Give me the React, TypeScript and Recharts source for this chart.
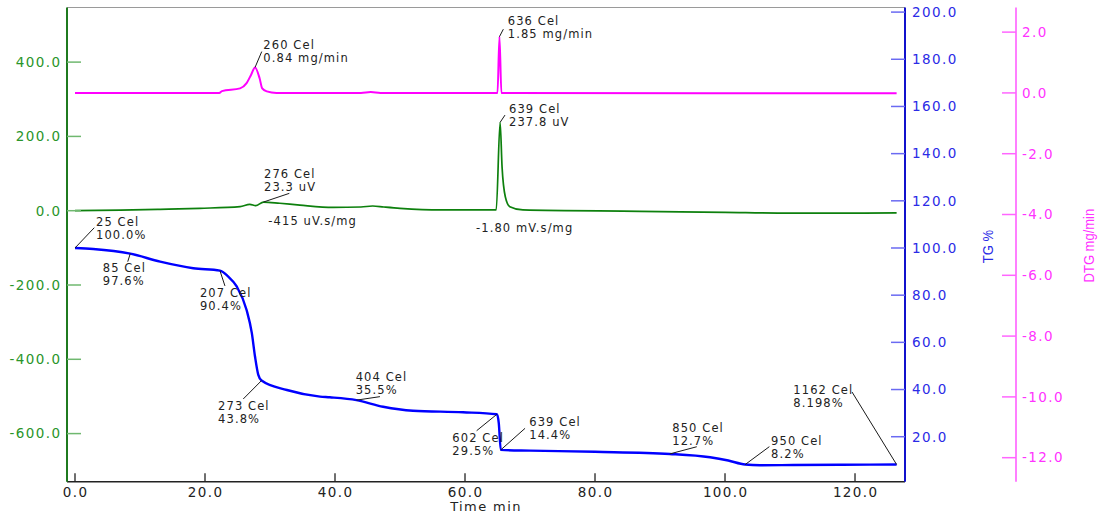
import React from "react";
import { ComposedChart, Line, XAxis, YAxis, ReferenceDot, ReferenceLine } from "recharts";

// TG mass curve between the marked points: [time min, mass %]
const tgTrace: [number, number][] = [
  [2.8, 99.6], [13.1, 94.2], [18.2, 91.4], [23.5, 88.1], [24.9, 83.6], [26.4, 73.7],
  [27.2, 64.0], [27.7, 53.9], [28.2, 46.2], [32.6, 39.8], [37.7, 37.0], [39.2, 36.7],
  [47.4, 32.7], [52.0, 31.0], [59.7, 30.35], [65.2, 25.7], [70.0, 14.1], [80.0, 13.6],
  [97.7, 11.3], [100.5, 9.9], [105.4, 7.9], [110.5, 8.0], [118.0, 8.1],
];

// DTA signal: [time min, uV]
const dtaTrace: [number, number][] = [
  [0, 0], [7.0, 1.5], [13.1, 3.8], [19.2, 6.5], [25.4, 10.8], [26.9, 17.0], [27.8, 13.5],
  [31.5, 20.0], [34.6, 15.0], [39.7, 9.0], [44.0, 10.0], [45.8, 12.6], [47.5, 10.0],
  [50.0, 6.5], [56.2, 2.0], [64.8, 2.0], [65.7, 118], [66.2, 37.7], [66.9, 10.8],
  [68.9, 2.0], [86.9, -1.6], [100.0, -4.5], [110.0, -6.5], [118.0, -6.5], [126.4, -6.0],
];

// DTG rate: [time min, mg/min]
const dtgTrace: [number, number][] = [
  [0, 0], [22.2, 0.0], [22.6, 0.06], [25.4, 0.15], [26.4, 0.32], [27.1, 0.6],
  [28.4, 0.48], [28.8, 0.15], [29.5, 0.05], [31.0, 0.0], [44.0, 0.0], [45.5, 0.03],
  [47.0, 0.0], [65.0, 0.0], [65.6, 0.0], [126.4, -0.01],
];

// evaluated points (time min, temperature Cel, value)
const tgMarks = [
  { t: 0, cel: 25, pct: 100.0, dp: 1 },
  { t: 8.5, cel: 85, pct: 97.6, dp: 1 },
  { t: 22.3, cel: 207, pct: 90.4, dp: 1 },
  { t: 28.7, cel: 273, pct: 43.8, dp: 1 },
  { t: 43.3, cel: 404, pct: 35.5, dp: 1 },
  { t: 64.9, cel: 602, pct: 29.5, dp: 1 },
  { t: 65.5, cel: 639, pct: 14.4, dp: 1 },
  { t: 91.5, cel: 850, pct: 12.7, dp: 1 },
  { t: 103.1, cel: 950, pct: 8.2, dp: 1 },
  { t: 126.4, cel: 1162, pct: 8.198, dp: 3 },
];
const dtaMarks = [
  { t: 29.0, cel: 276, uv: 23.3 },
  { t: 65.4, cel: 639, uv: 237.8 },
];
const dtaPeakAreas = ["-415 uV.s/mg", "-1.80 mV.s/mg"];
const dtgMarks = [
  { t: 27.7, cel: 260, rate: 0.84 },
  { t: 65.3, cel: 636, rate: 1.85 },
];

const timeTicks = [0, 20, 40, 60, 80, 100, 120];
const dtaTicks = [-600, -400, -200, 0, 200, 400];
const tgTicks = [20, 40, 60, 80, 100, 120, 140, 160, 180, 200];
const dtgTicks = [-12, -10, -8, -6, -4, -2, 0, 2];

// callout layout: leader end (lx, ly), first text baseline (tx, ty), px from the point
const tgCallouts = [
  { lx: 19.3, ly: -20.3, tx: 21, ty: -22.3 },
  { lx: -2.5, ly: 8, tx: -27.5, ty: 18.6 },
  { lx: 5, ly: 15.3, tx: -20, ty: 26 },
  { lx: -18.3, ly: 18.4, tx: -43.5, ty: 29.4 },
  { lx: 23.5, ly: -3.5, tx: -0.8, ty: -19.5 },
  { lx: -20.2, ly: 16.4, tx: -44.5, ty: 27.4 },
  { lx: 24.3, ly: -21.6, tx: 28.5, ty: -24.2 },
  { lx: 27, ly: -7.2, tx: 2.5, ty: -22.2 },
  { lx: 24.2, ly: -17.9, tx: 25.9, ty: -19.6 },
  { lx: -44.6, ly: -72.6, tx: -103.3, ty: -70.6 },
];
const dtaCallouts = [
  { lx: 25.8, ly: -8.7, tx: 0.5, ty: -23.7, nx: 4.8, ny: 23 },
  { lx: 4.9, ly: -7.3, tx: 8.9, ty: -9, nx: -24.1, ny: 109.4 },
];
const dtgCallouts = [
  { lx: 6.7, ly: -15.8, tx: 8.3, ty: -18.2 },
  { lx: 3.9, ly: -7.5, tx: 8.3, ty: -11.8 },
];

const timeDomain: [number, number] = [-1.23, 127.69];
const dtaDomain: [number, number] = [-729.5, 547];
const tgDomain: [number, number] = [0.93, 201.95];
const dtgDomain: [number, number] = [-12.79, 2.81];

// merge the three traces (plus marked points) into one table keyed by time
type Row = { t: number; tg?: number; dta?: number; dtg?: number };
const byTime = new Map<number, Row>();
const put = (key: "tg" | "dta" | "dtg", pts: [number, number][]) =>
  pts.forEach(([t, v]) => {
    const row = byTime.get(t) ?? { t };
    row[key] = v;
    byTime.set(t, row);
  });
put("tg", [...tgTrace, ...tgMarks.map((m) => [m.t, m.pct] as [number, number])]);
put("dta", [...dtaTrace, ...dtaMarks.map((m) => [m.t, m.uv] as [number, number])]);
put("dtg", [...dtgTrace, ...dtgMarks.map((m) => [m.t, m.rate] as [number, number])]);
const rows = [...byTime.values()].sort((a, b) => a.t - b.t);

const GREEN = "#1f7a1f";
const BLUE = "#0000ff";
const MAGENTA = "#ff00ff";

const tickFont = { fontFamily: '"DejaVu Sans", sans-serif', fontSize: 13.5, letterSpacing: 1.4 };
const titleFont = { fontFamily: '"DejaVu Sans", sans-serif', fontSize: 13, letterSpacing: 1.4 };
const noteFont = { fontFamily: '"DejaVu Sans", sans-serif', fontSize: 11.5, letterSpacing: 1.1 };

const TimeTick = ({ x, y, payload }: any) => (
  <g>
    <line x1={x} x2={x} y1={y} y2={y - 8.5} stroke="#222" strokeWidth={1.3} />
    <text x={x + 0.7} y={y + 15} textAnchor="middle" fill="#222" style={tickFont}>
      {Number(payload.value).toFixed(1)}
    </text>
  </g>
);

const DtaTick = ({ x, y, payload }: any) => (
  <g>
    <line x1={x} x2={x + 14} y1={y} y2={y} stroke="#6fb86f" strokeWidth={1.5} />
    <text x={x - 5.5} y={y + 4.8} textAnchor="end" fill="#2a952a" style={tickFont}>
      {Number(payload.value).toFixed(1)}
    </text>
  </g>
);

const TgTick = ({ x, y, payload }: any) => (
  <g>
    <line x1={x - 14} x2={x} y1={y} y2={y} stroke="#6a6af2" strokeWidth={1.5} />
    <text x={x + 7} y={y + 4.8} fill="#2b2be6" style={tickFont}>
      {Number(payload.value).toFixed(1)}
    </text>
  </g>
);

const DtgTick = ({ x, y, payload }: any) => (
  <g>
    <line x1={x - 14} x2={x} y1={y} y2={y} stroke="#ff66ff" strokeWidth={1.5} />
    <text x={x + 6} y={y + 4.8} fill="#ff33ff" style={tickFont}>
      {Number(payload.value).toFixed(1)}
    </text>
  </g>
);

// rotated axis title; glyphs are widened a little across the reading direction
const AxisTitle = ({ viewBox, text, dx, cyShift = 0, color }: any) => {
  if (!viewBox) return null;
  const cx = viewBox.x + dx;
  const cy = viewBox.y + viewBox.height / 2 + cyShift;
  return (
    <text
      transform={`translate(${cx}, ${cy}) rotate(-90) scale(1, 1.15)`}
      x={0}
      y={4}
      textAnchor="middle"
      fill={color}
      style={{ fontFamily: '"Liberation Sans", Arial, sans-serif', fontSize: 13 }}
    >
      {text}
    </text>
  );
};

const TimeTitle = ({ viewBox }: any) => {
  if (!viewBox) return null;
  return (
    <text
      x={viewBox.x + viewBox.width / 2}
      y={viewBox.y + 29}
      textAnchor="middle"
      fill="#222"
      style={titleFont}
    >
      Time min
    </text>
  );
};

const Callout = ({ cx, cy, c, lines, note }: any) => {
  if (cx == null || cy == null) return null;
  return (
    <g>
      <line x1={cx} y1={cy} x2={cx + c.lx} y2={cy + c.ly} stroke="#1a1a1a" strokeWidth={1} />
      <text fill="#222" style={noteFont}>
        <tspan x={cx + c.tx} y={cy + c.ty}>{lines[0]}</tspan>
        <tspan x={cx + c.tx} y={cy + c.ty + 13}>{lines[1]}</tspan>
      </text>
      {note && (
        <text x={cx + c.nx} y={cy + c.ny} fill="#222" style={noteFont}>
          {note}
        </text>
      )}
    </g>
  );
};

export default function App() {
  return (
    <div style={{ position: "absolute", left: 0, top: 0, width: 1100, height: 514, background: "#fff" }}>
      <ComposedChart
        width={1100}
        height={514}
        data={rows}
        margin={{ top: 7.5, right: 0, bottom: 0, left: 0 }}
      >
        <XAxis
          type="number"
          dataKey="t"
          domain={timeDomain}
          allowDataOverflow
          ticks={timeTicks}
          height={32.3}
          tickSize={0}
          tickMargin={0}
          tickLine={false}
          tick={<TimeTick />}
          axisLine={{ stroke: "#222", strokeWidth: 1.5 }}
          label={<TimeTitle />}
        />
        <YAxis
          yAxisId="dta"
          orientation="left"
          type="number"
          domain={dtaDomain}
          allowDataOverflow
          ticks={dtaTicks}
          width={67}
          tickSize={0}
          tickMargin={0}
          tickLine={false}
          tick={<DtaTick />}
          axisLine={{ stroke: GREEN, strokeWidth: 2 }}
        />
        {/* right axes stack by id: "mass" sits next to the plot, "rate" outside it */}
        <YAxis
          yAxisId="mass"
          orientation="right"
          type="number"
          domain={tgDomain}
          allowDataOverflow
          ticks={tgTicks}
          width={111}
          tickSize={0}
          tickMargin={0}
          tickLine={false}
          tick={<TgTick />}
          axisLine={{ stroke: "#1111cc", strokeWidth: 2 }}
          label={<AxisTitle text="TG %" dx={83} cyShift={2} color="#2b2be6" />}
        />
        <YAxis
          yAxisId="rate"
          orientation="right"
          type="number"
          domain={dtgDomain}
          allowDataOverflow
          ticks={dtgTicks}
          width={84}
          tickSize={0}
          tickMargin={0}
          tickLine={false}
          tick={<DtgTick />}
          axisLine={{ stroke: "#ff55ff", strokeWidth: 1.5 }}
          label={<AxisTitle text="DTG mg/min" dx={73} cyShift={1} color="#ff33ff" />}
        />

        <ReferenceLine yAxisId="dta" y={dtaDomain[1]} stroke="#9a9a9a" strokeWidth={1} ifOverflow="visible" />

        <Line yAxisId="rate" dataKey="dtg" type="monotone" stroke={MAGENTA} strokeWidth={2}
          dot={false} activeDot={false} connectNulls isAnimationActive={false} />
        <Line yAxisId="dta" dataKey="dta" type="monotone" stroke="#0d800d" strokeWidth={1.7}
          dot={false} activeDot={false} connectNulls isAnimationActive={false} />
        <Line yAxisId="mass" dataKey="tg" type="monotone" stroke={BLUE} strokeWidth={2.4}
          dot={false} activeDot={false} connectNulls isAnimationActive={false} />

        {dtgMarks.map((m, i) => (
          <ReferenceDot
            key={`dtg${i}`}
            yAxisId="rate"
            x={m.t}
            y={m.rate}
            r={0}
            ifOverflow="visible"
            shape={(p: any) => (
              <Callout cx={p.cx} cy={p.cy} c={dtgCallouts[i]}
                lines={[`${m.cel} Cel`, `${m.rate.toFixed(2)} mg/min`]} />
            )}
          />
        ))}
        {dtaMarks.map((m, i) => (
          <ReferenceDot
            key={`dta${i}`}
            yAxisId="dta"
            x={m.t}
            y={m.uv}
            r={0}
            ifOverflow="visible"
            shape={(p: any) => (
              <Callout cx={p.cx} cy={p.cy} c={dtaCallouts[i]}
                lines={[`${m.cel} Cel`, `${m.uv.toFixed(1)} uV`]} note={dtaPeakAreas[i]} />
            )}
          />
        ))}
        {tgMarks.map((m, i) => (
          <ReferenceDot
            key={`tg${i}`}
            yAxisId="mass"
            x={m.t}
            y={m.pct}
            r={0}
            ifOverflow="visible"
            shape={(p: any) => (
              <Callout cx={p.cx} cy={p.cy} c={tgCallouts[i]}
                lines={[`${m.cel} Cel`, `${m.pct.toFixed(m.dp)}%`]} />
            )}
          />
        ))}
      </ComposedChart>
    </div>
  );
}
